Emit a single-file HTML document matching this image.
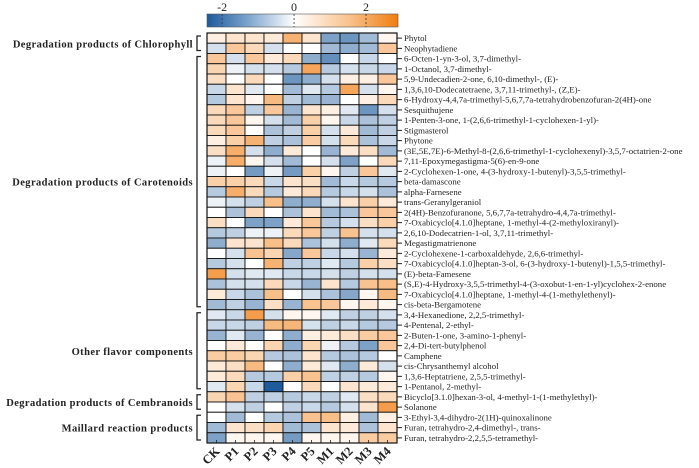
<!DOCTYPE html>
<html><head><meta charset="utf-8"><style>
html,body{margin:0;padding:0;background:#fff;}
svg{display:block;font-family:"Liberation Serif",serif;}
</style></head><body>
<svg id="chart" width="699" height="468" viewBox="0 0 699 468" xmlns="http://www.w3.org/2000/svg">
<defs>
<linearGradient id="cbgrad" x1="0" x2="1" y1="0" y2="0">
<stop offset="0" stop-color="#1c5a9c"/>
<stop offset="0.22" stop-color="#7fa6cf"/>
<stop offset="0.457" stop-color="#ffffff"/>
<stop offset="0.75" stop-color="#f8c18a"/>
<stop offset="1" stop-color="#f07d10"/>
</linearGradient>
</defs>
<g id="colorbar"></g>
<g id="cells"></g>
<g id="rowlabels"></g>
<g id="collabels"></g>
<g id="groups"></g>
</svg>
<script>
const columns = ["CK","P1","P2","P3","P4","P5","M1","M2","M3","M4"];
const rowNames = [
"Phytol","Neophytadiene","6-Octen-1-yn-3-ol, 3,7-dimethyl-","1-Octanol, 3,7-dimethyl-",
"5,9-Undecadien-2-one, 6,10-dimethyl-, (E)-","1,3,6,10-Dodecatetraene, 3,7,11-trimethyl-, (Z,E)-",
"6-Hydroxy-4,4,7a-trimethyl-5,6,7,7a-tetrahydrobenzofuran-2(4H)-one","Sesquithujene",
"1-Penten-3-one, 1-(2,6,6-trimethyl-1-cyclohexen-1-yl)-","Stigmasterol","Phytone",
"(3E,5E,7E)-6-Methyl-8-(2,6,6-trimethyl-1-cyclohexenyl)-3,5,7-octatrien-2-one",
"7,11-Epoxymegastigma-5(6)-en-9-one","2-Cyclohexen-1-one, 4-(3-hydroxy-1-butenyl)-3,5,5-trimethyl-",
"beta-damascone","alpha-Farnesene","trans-Geranylgeraniol",
"2(4H)-Benzofuranone, 5,6,7,7a-tetrahydro-4,4,7a-trimethyl-",
"7-Oxabicyclo[4.1.0]heptane, 1-methyl-4-(2-methyloxiranyl)-","2,6,10-Dodecatrien-1-ol, 3,7,11-trimethyl-",
"Megastigmatrienone","2-Cyclohexene-1-carboxaldehyde, 2,6,6-trimethyl-",
"7-Oxabicyclo[4.1.0]heptan-3-ol, 6-(3-hydroxy-1-butenyl)-1,5,5-trimethyl-","(E)-beta-Famesene",
"(S,E)-4-Hydroxy-3,5,5-trimethyl-4-(3-oxobut-1-en-1-yl)cyclohex-2-enone",
"7-Oxabicyclo[4.1.0]heptane, 1-methyl-4-(1-methylethenyl)-","cis-beta-Bergamotene",
"3,4-Hexanedione, 2,2,5-trimethyl-","4-Pentenal, 2-ethyl-","2-Buten-1-one, 3-amino-1-phenyl-",
"2,4-Di-tert-butylphenol","Camphene","cis-Chrysanthemyl alcohol","1,3,6-Heptatriene, 2,5,5-trimethyl-",
"1-Pentanol, 2-methyl-","Bicyclo[3.1.0]hexan-3-ol, 4-methyl-1-(1-methylethyl)-","Solanone",
"3-Ethyl-3,4-dihydro-2(1H)-quinoxalinone","Furan, tetrahydro-2,4-dimethyl-, trans-",
"Furan, tetrahydro-2,2,5,5-tetramethyl-"];
const values = [
[0.2,0.4,0.4,0.3,1.5,0.4,-1.2,-1.4,-0.8,0.1],
[-0.3,1.0,0.6,-0.3,0,0,-0.8,-1.0,-0.8,1.0],
[1.0,-0.3,1.0,0.3,0.6,-1.0,-1.5,0,-0.4,0],
[0.7,-0.1,-0.3,-0.3,-0.6,1.8,-0.6,-0.3,-0.4,-0.4],
[0.5,0,0.6,0,-1.4,-1.0,-0.3,0.2,0.2,1.0],
[-0.4,0.4,-0.2,0,-0.8,-0.2,-0.6,1.8,-0.3,0.1],
[-0.6,0.4,0.1,1.3,-0.5,-0.8,-0.9,0,0.2,0.6],
[0.6,1.0,-0.5,1.0,-0.9,0.4,0.2,-0.2,-1.4,-0.3],
[0.6,1.0,0.1,-0.3,-0.8,0.8,0.1,-0.4,-0.7,-0.5],
[0.6,1.0,0,-0.7,-0.5,0.8,-0.3,0.3,-0.8,-0.5],
[0.2,0.8,1.5,-0.5,-0.7,0.9,-0.3,0.6,-0.7,-0.4],
[0.5,1.6,-0.3,-1.0,0.3,0,-0.9,0.3,0.5,-0.8],
[-0.1,1.6,0.1,-0.3,-0.8,0,-0.3,-1.2,0,0.6],
[-0.1,0,-1.3,-0.1,-1.3,0.8,0.1,-0.5,1.0,-0.2],
[0.8,0.8,0.6,-0.4,0.4,0.5,-0.8,-0.4,-0.6,-0.6],
[-0.6,1.6,0.6,-0.6,0.3,0.6,-0.6,-0.4,-0.3,-0.7],
[-0.1,-0.3,-0.5,1.2,-1.0,-1.0,-0.3,0.4,0.8,0.3],
[0,-0.7,0.6,0,-0.7,0.4,-0.8,-0.7,1.0,1.0],
[0.5,0,-1.2,-1.2,0.3,1.0,-0.6,-0.3,0.5,0.8],
[-0.6,-0.5,-0.1,-0.1,0.6,1.0,-0.5,1.1,-0.3,-0.3],
[-1.0,0.4,0.4,1.2,0.6,-0.7,-0.3,-1.0,-0.2,0.6],
[0,-0.3,1.1,0.7,-1.1,1.0,-0.4,-0.3,-0.9,0.3],
[-0.6,-0.3,0,1.5,-0.5,-0.5,-0.2,-0.6,0.8,0.5],
[2.0,-0.3,-0.2,-0.2,-0.4,-0.4,-0.3,-0.5,-0.3,-0.3],
[-0.7,-0.3,-0.3,0.6,-0.4,-0.9,0.4,-0.6,1.1,1.2],
[0.3,-0.4,-0.7,1.2,0,-0.3,-0.7,-1.1,0.1,1.3],
[-0.8,-0.5,-0.9,0.5,-0.9,1.1,1.0,0.1,0.3,0.1],
[-0.2,-0.4,2.0,-0.3,0.1,0.1,-0.2,-0.5,-0.5,-0.3],
[-0.4,-0.4,-0.5,1.3,1.4,-0.3,-0.5,-0.4,-0.6,-0.6],
[-0.9,-0.2,-0.9,0,-1.0,0.2,0.3,0.5,0.9,1.0],
[0,0.3,0,0.7,-1.0,0.7,-0.1,-0.6,-1.2,1.0],
[0.9,0.9,0.7,-0.6,-0.7,0.4,-0.6,-0.7,-0.6,0],
[0.3,0.5,1.3,0,-1.0,0.3,-0.2,-1.0,0.3,-0.3],
[0.3,0.6,-0.6,-0.6,0.8,1.1,-0.5,-0.5,-0.6,0.1],
[-0.2,0.7,-0.4,-2.4,0,0.6,0,0.4,0.3,0.3],
[0.7,1.1,-0.5,-0.5,-0.6,-0.4,-0.5,-0.2,0.5,0.6],
[0,-0.3,-0.5,0,-0.5,-0.4,-0.6,-0.3,0.4,2.0],
[0,-0.8,0,-0.6,-0.7,1.1,1.2,0.2,-0.8,0.2],
[-0.8,0.4,0.5,0.7,-0.8,-0.7,0.4,0.3,-0.7,0.4],
[-1.2,0.1,0.1,0.1,-1.3,0.1,0.1,0.1,0.9,0.9]];
const colorTicks = [-2,0,2];
const colorDomain = [-2.42,2.89];
const groupNames = ["Degradation products of Chlorophyll","Degradation products of Carotenoids","Other flavor components","Degradation products of Cembranoids","Maillard reaction products"];
const groupStart = [0,2,27,35,37];
const groupEnd = [1,26,34,36,39];

const NS="http://www.w3.org/2000/svg";
const X0=207, X1=397, Y0=33, Y1=443;
const cw=(X1-X0)/columns.length, rh=(Y1-Y0)/rowNames.length;
const xScale=i=>X0+i*cw;
const yScale=j=>Y0+j*rh;
const cbScale=v=>207+(v-colorDomain[0])/(colorDomain[1]-colorDomain[0])*(398-207);
function mk(tag,attrs,parent){const e=document.createElementNS(NS,tag);for(const k in attrs)e.setAttribute(k,attrs[k]);parent.appendChild(e);return e;}
function lerp(a,b,t){return Math.round(a+(b-a)*t);}
function color(v){
  if(v<0){const t=Math.pow(Math.min(1,-v/2.42),0.8);return `rgb(${lerp(255,28,t)},${lerp(255,90,t)},${lerp(255,156,t)})`;}
  const t=Math.pow(Math.min(1,v/2.89),0.8);return `rgb(${lerp(255,240,t)},${lerp(255,125,t)},${lerp(255,16,t)})`;
}
const cb=document.getElementById('colorbar');
const cbr=mk('rect',{x:207,y:14,width:191,height:13,fill:'url(#cbgrad)',stroke:'#555','stroke-width':0.6},cb);


colorTicks.forEach(t=>{
  const x=cbScale(t);
  const l=mk('line',{x1:x,x2:x,y1:14,y2:27,stroke:'#333','stroke-width':0.8,'stroke-dasharray':'2,2'},cb);
  
  
  const tx=mk('text',{x:x,y:11,'text-anchor':'middle','font-size':12,fill:'#222'},cb);
  tx.textContent=(t<0?'-':'')+Math.abs(t);
  
  
});
const cg=document.getElementById('cells');
values.forEach((row,j)=>row.forEach((v,i)=>{
  const r=mk('rect',{x:xScale(i),y:yScale(j),width:cw,height:rh,fill:color(v),stroke:'#111','stroke-width':0.9},cg);
  
  
}));
mk('rect',{x:X0,y:Y0,width:X1-X0,height:Y1-Y0,fill:'none',stroke:'#111','stroke-width':1.2},cg);
const rl=document.getElementById('rowlabels');
rowNames.forEach((n,j)=>{
  const y=yScale(j)+rh/2;
  mk('line',{x1:X1,x2:X1+5,y1:y,y2:y,stroke:'#222','stroke-width':1},rl);
  const t=mk('text',{x:404,y:y+3,'font-size':8.8,fill:'#222'},rl);
  t.textContent=n;
  
  
});
const cl=document.getElementById('collabels');
columns.forEach((c,i)=>{
  const x=xScale(i)+cw/2;
  mk('line',{x1:x,x2:x,y1:Y1-3,y2:Y1,stroke:'#222','stroke-width':0.8},cl);
  const t=mk('text',{x:x+4,y:452,'font-size':12.5,'font-weight':'bold','text-anchor':'end',fill:'#222',transform:`rotate(-45 ${x+4} 452)`},cl);
  t.textContent=c;
  
  
});
const gg=document.getElementById('groups');
groupNames.forEach((g,k)=>{
  const ya=yScale(groupStart[k])+3, yb=yScale(groupEnd[k]+1)-3;
  const p=mk('path',{d:`M201,${ya} H197 V${yb} H201`,fill:'none',stroke:'#222','stroke-width':1.3},gg);
  
  
  const t=mk('text',{x:193,y:(ya+yb)/2+4,'font-size':10.5,'font-weight':'bold','text-anchor':'end',fill:'#222','letter-spacing':0.4},gg);
  t.textContent=g;
  
  
});
</script>
</body></html>
